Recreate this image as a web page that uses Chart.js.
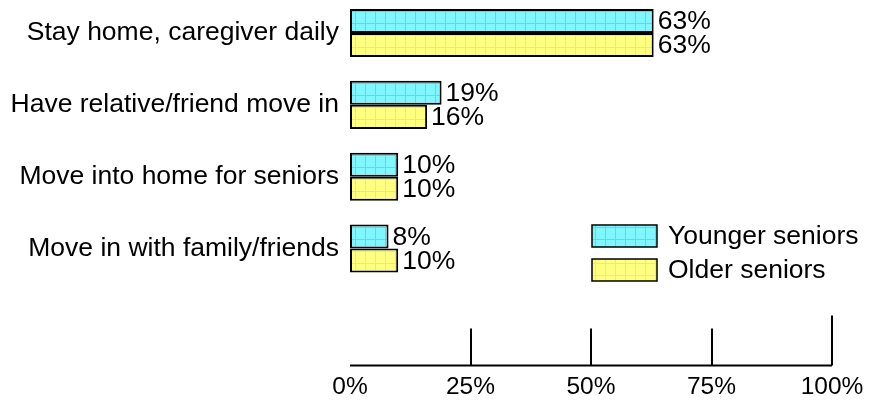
<!DOCTYPE html>
<html>
<head>
<meta charset="utf-8">
<script src="https://cdn.jsdelivr.net/npm/chart.js@4"></script>
<style>
  html, body { margin: 0; padding: 0; background: #fff; }
</style>
</head>
<body>
<canvas id="careChart" width="874" height="408"></canvas>
<script>
// Chart data
const categories = [
  "Stay home, caregiver daily",
  "Have relative/friend move in",
  "Move into home for seniors",
  "Move in with family/friends",
];
const seriesNames = ["Younger seniors", "Older seniors"];
const youngerSeniors = [63, 19, 10, 8];
const olderSeniors = [63, 16, 10, 10];
const xTicks = [0, 25, 50, 75, 100];

const FONT = "'Liberation Sans', Arial, sans-serif";
const ctx = document.getElementById("careChart").getContext("2d");

// Hatched fill like the original (light colour with a fine grid)
function makePattern(base, line) {
  const tile = document.createElement("canvas");
  tile.width = 10;
  tile.height = 12;
  const c = tile.getContext("2d");
  c.fillStyle = base;
  c.fillRect(0, 0, 10, 12);
  c.fillStyle = line;
  c.fillRect(0, 11, 10, 1);
  c.fillRect(5, 0, 1, 12);
  return ctx.createPattern(tile, "repeat");
}
const cyanFill = makePattern("#80f6ff", "#3ee6f6");
const yellowFill = makePattern("#ffff80", "#f6f624");

// Draws value labels, the bottom axis with upward ticks, and the legend box
const overlayPlugin = {
  id: "overlay",
  afterDatasetsDraw(chart) {
    const c = chart.ctx;
    c.save();
    c.fillStyle = "#000";
    c.font = "26.5px " + FONT;
    c.textBaseline = "middle";
    c.textAlign = "left";
    chart.data.datasets.forEach((ds, di) => {
      chart.getDatasetMeta(di).data.forEach((bar, i) => {
        c.fillText(ds.data[i].x + "%", bar.x + 4, bar.y + 1);
      });
    });
    c.restore();
  },
  afterDraw(chart) {
    const c = chart.ctx;
    const x = chart.scales.x;
    const bottom = chart.chartArea.bottom;
    c.save();
    c.strokeStyle = "#000";
    c.lineWidth = 2;
    c.beginPath();
    c.moveTo(x.getPixelForValue(0), bottom);
    c.lineTo(x.getPixelForValue(100), bottom);
    xTicks.forEach((v) => {
      if (v === 0) return;
      const px = Math.round(x.getPixelForValue(v));
      c.moveTo(px, bottom);
      c.lineTo(px, bottom - (v === 100 ? 50 : 37));
    });
    c.stroke();

    // legend
    c.font = "26.5px " + FONT;
    c.textBaseline = "middle";
    c.fillStyle = "#000";
    chart.data.datasets.forEach((ds, i) => {
      const top = 225 + i * 34;
      c.fillStyle = ds.backgroundColor;
      c.fillRect(592, top, 65, 22);
      c.lineWidth = 1.5;
      c.strokeStyle = "#000";
      c.strokeRect(592, top, 65, 22);
      c.fillStyle = "#000";
      c.fillText(ds.label, 668, top + 12);
    });
    c.restore();
  },
};

new Chart(ctx, {
  type: "bar",
  data: {
    datasets: [
      {
        label: seriesNames[0],
        data: youngerSeniors.map((v, i) => ({ x: v, y: i })),
        backgroundColor: cyanFill,
        borderColor: "#000",
        borderWidth: 2,
        borderSkipped: false,
      },
      {
        label: seriesNames[1],
        data: olderSeniors.map((v, i) => ({ x: v, y: i })),
        backgroundColor: yellowFill,
        borderColor: "#000",
        borderWidth: 2,
        borderSkipped: false,
      },
    ],
  },
  options: {
    indexAxis: "y",
    responsive: false,
    animation: false,
    categoryPercentage: 0.67,
    barPercentage: 1,
    layout: { padding: { top: 0, right: 42, left: 0, bottom: 0 } },
    plugins: {
      legend: { display: false },
      tooltip: { enabled: false },
    },
    scales: {
      x: {
        type: "linear",
        min: 0,
        max: 100,
        afterBuildTicks: (s) => {
          s.ticks = xTicks.map((v) => ({ value: v }));
        },
        ticks: {
          callback: (v) => v + "%",
          font: { family: FONT, size: 24.5 },
          color: "#000",
          padding: 6.5,
          maxRotation: 0,
          autoSkip: false,
        },
        grid: { display: false, drawTicks: false },
        border: { display: false },
      },
      y: {
        type: "linear",
        reverse: true,
        offset: false,
        bounds: "data",
        min: -0.46,
        max: 4.63,
        afterBuildTicks: (s) => {
          s.ticks = categories.map((c, i) => ({ value: i }));
        },
        afterFit: (s) => {
          s.width = 350;
          // labels are well inside the area, no edge padding needed
          s.paddingTop = 0;
          s.paddingBottom = 0;
        },
        ticks: {
          callback: (v) => categories[v],
          font: { family: FONT, size: 26.5 },
          color: "#000",
          padding: 11,
        },
        grid: { display: false, drawTicks: false, offset: false },
        border: { display: false },
      },
    },
  },
  plugins: [overlayPlugin],
});
</script>
</body>
</html>
